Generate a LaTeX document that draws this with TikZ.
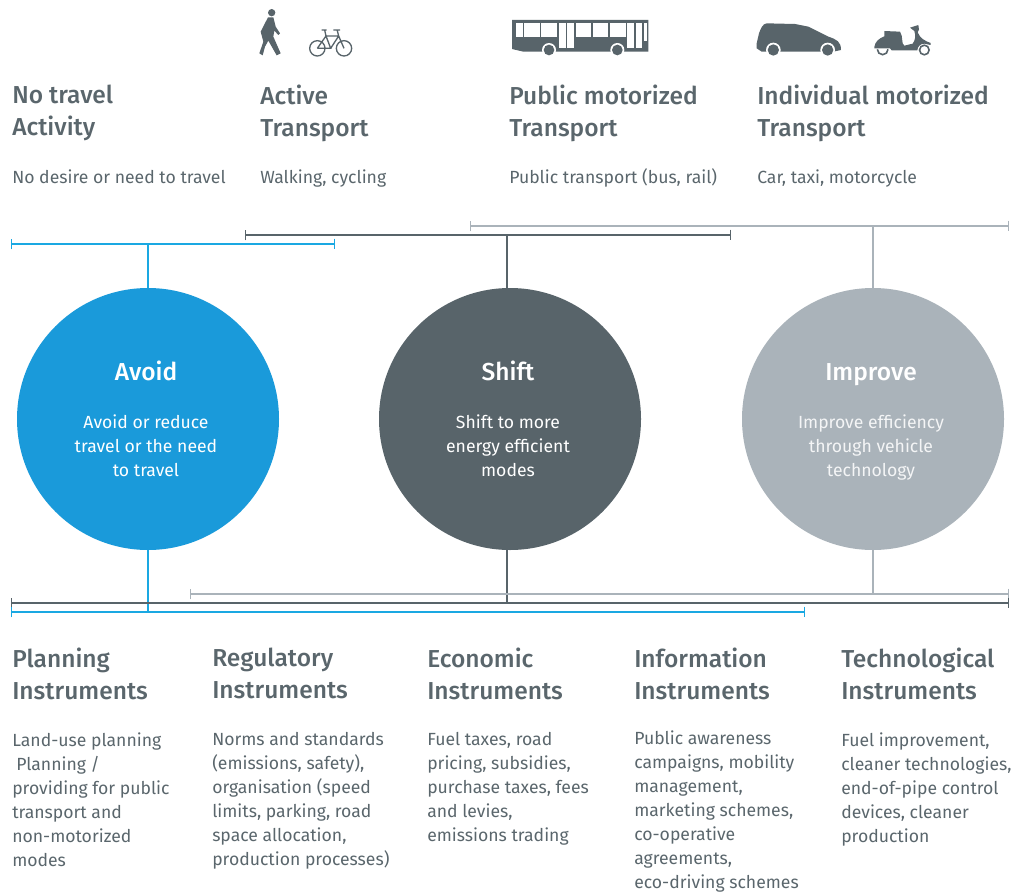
\documentclass[tikz,border=0pt]{standalone}
\usepackage{fontspec}
\setmainfont[BoldFont={Fira Sans Medium}]{Fira Sans}
\usetikzlibrary{arrows.meta}
\definecolor{avoidblue}{HTML}{1A9ADA}
\definecolor{lineblue}{HTML}{1AA8E2}
\definecolor{shiftgrey}{HTML}{58646A}
\definecolor{improvegrey}{HTML}{AAB3BA}
\definecolor{textgrey}{HTML}{5A666C}
\definecolor{improvetext}{HTML}{F4F5F6}
\tikzset{
  headtext/.style={anchor=north west, inner sep=0pt, align=left, text=textgrey,
    font=\fontsize{18.4}{24}\selectfont\bfseries, execute at begin node=\strut},
  bodytext/.style={anchor=north west, inner sep=0pt, align=left, text=textgrey,
    font=\fontsize{13.2}{18}\selectfont, execute at begin node=\strut},
  bigcircle/.style={circle, minimum size=196.5pt, inner sep=0pt},
  circlehead/.style={anchor=base, inner sep=0pt, text=white, font=\fontsize{18.4}{24}\selectfont\bfseries},
  circletext/.style={anchor=north, inner sep=0pt, align=center, font=\fontsize{13.2}{18}\selectfont},
  bracket/.style={line width=1.1pt, {Bar[width=8pt,line width=1pt]}-{Bar[width=8pt,line width=1pt]}},
  stem/.style={line width=1.1pt},
  icon/.style={fill=shiftgrey, draw=none}
}
\begin{document}
\begin{tikzpicture}[x=0.75pt, y=-0.75pt]
\useasboundingbox (0,0) rectangle (1013,892);

% top columns
\foreach \idx/\px/\head/\lab in {
  1/12/{No travel\\Activity}/{No desire or need to travel},
  2/260/{Active\\Transport}/{Walking, cycling},
  3/509/{Public motorized\\Transport}/{Public transport (bus, rail)},
  4/757/{Individual motorized\\Transport}/{Car, taxi, motorcycle}
}{
  \node[headtext] (H\idx) at (\px,85) {\head};
  \node[bodytext] (D\idx) at (\px,166) {\lab};
}

% circles
\foreach \name/\px/\col/\head/\lab/\txt in {
  avoid/148/avoidblue/Avoid/{Avoid or reduce\\travel or the need\\to travel}/white,
  shift/510/shiftgrey/Shift/{Shift to more\\energy efficient\\modes}/white,
  improve/873/improvegrey/Improve/{Improve efficiency\\through vehicle\\technology}/improvetext}{
  \node[bigcircle, fill=\col] (\name) at (\px,419) {};
  \node[circlehead] (\name head) at (\px-2,380) {\head};
  \node[circletext, text=\txt] (\name text) at (\px-2,414.5) {\lab};
}

% brackets above and below the circles
\foreach \name/\col/\ytop/\xa/\xb/\ybot/\xc/\xd/\sx in {
  avoid/lineblue/244/11/335/612/11/805/148,
  shift/shiftgrey/235/245/731/603/11/1009/507,
  improve/improvegrey/226/470/1009/594/190/1009/873}{
  \coordinate (\name TL) at (\xa,\ytop);
  \coordinate (\name TR) at (\xb,\ytop);
  \coordinate (\name TS) at (\sx,\ytop);
  \coordinate (\name BL) at (\xc,\ybot);
  \coordinate (\name BR) at (\xd,\ybot);
  \coordinate (\name BS) at (\sx,\ybot);
  \draw[bracket, draw=\col] (\name TL) -- (\name TR);
  \draw[stem, draw=\col] (\name TS) -- (\name TS |- \name.north);
  \draw[stem, draw=\col] (\name BS |- \name.south) -- (\name BS);
}
\draw[bracket, draw=improvegrey] (improveBL) -- (improveBR);
\draw[bracket, draw=shiftgrey] (shiftBL) -- (shiftBR);
\draw[bracket, draw=lineblue] (avoidBL) -- (avoidBR);

% bottom columns
\node[headtext] (P1) at (12,648) {Planning\\Instruments};
\node[headtext] (P2) at (212,648) {Regulatory\\Instruments};
\node[headtext] (P3) at (427,648) {Economic\\Instruments};
\node[headtext] (P4) at (634,648) {Information\\Instruments};
\node[headtext] (P5) at (841,648) {Technological\\Instruments};
\node[bodytext] (Q1) at (12,732) {Land-use planning\\\hspace*{3pt}Planning /\\providing for public\\transport and\\non-motorized\\modes};
\node[bodytext] (Q2) at (212,732) {Norms and standards\\(emissions, safety),\\organisation (speed\\limits, parking, road\\space allocation,\\production processes)};
\node[bodytext] (Q3) at (427,732) {Fuel taxes, road\\pricing, subsidies,\\purchase taxes, fees\\and levies,\\emissions trading};
\node[bodytext] (Q4) at (634,730) {Public awareness\\campaigns, mobility\\management,\\marketing schemes,\\co-operative\\agreements,\\eco-driving schemes};
\node[bodytext] (Q5) at (841,732) {Fuel improvement,\\cleaner technologies,\\end-of-pipe control\\devices, cleaner\\production};

% walker and bike
\begin{scope}[shift={(240,0)}, x=0.25pt, y=-0.25pt]
  \fill[icon] (95,38) circle (2.75pt);
  \fill[icon] (84,52) -- (100,52) -- (107,80) -- (120,100) -- (115,105) -- (103,92) -- (100,110)
    -- (122,160) -- (110,166) -- (85,122) -- (75,140) -- (68,166) -- (58,160) -- (70,125) -- (62,95) -- cycle;
  \draw[shiftgrey, line width=1pt] (232,145) circle (5.75pt) (312,145) circle (5.75pt)
    (232,145) -- (258,108) -- (296,108) -- (312,145) (258,108) -- (272,145) -- (232,145)
    (272,145) -- (296,108) (296,108) -- (292,92) (280,90) -- (300,90) (245,90) -- (260,90) (258,108) -- (254,90);
\end{scope}

% bus
\begin{scope}[shift={(500,0)}, x=0.25pt, y=-0.25pt]
  \fill[icon] (36,60) -- (445,60) -- (445,155) -- (70,155) -- (36,147) -- cycle;
  \foreach \xa/\xb/\yb in {47/68/112, 73/119/112, 124/170/112, 176/197/145, 202/222/145, 228/274/112,
    279/325/112, 331/377/112, 382/402/145, 407/427/145, 432/441/122}{
    \fill[white] (\xa,70) rectangle (\xb,\yb);
  }
  \foreach \xa in {147,352}{
    \fill[white] (\xa,150) circle (5.25pt);
    \fill[icon] (\xa,150) circle (4pt);
  }
\end{scope}

% car
\begin{scope}[shift={(745,0)}, x=0.25pt, y=-0.25pt]
  \fill[icon] (35,130) -- (42,100) .. controls (48,85) and (52,72) .. (65,70) -- (150,72) -- (190,80)
    -- (250,110) .. controls (275,118) and (288,125) .. (288,150) -- (265,155) -- (50,155) -- (35,145) -- cycle;
  \foreach \xa in {85,248}{
    \fill[white] (\xa,150) circle (5.5pt);
    \fill[icon] (\xa,150) circle (4.25pt);
  }
\end{scope}

% scooter
\begin{scope}[shift={(865,15)}, x=0.25pt, y=-0.25pt]
  \fill[icon] (28,96) .. controls (30,80) and (42,70) .. (58,64) -- (58,48) -- (105,50) -- (110,62)
    -- (113,85) -- (118,92) -- (143,86) .. controls (152,75) and (152,60) .. (148,48) -- (135,38) -- (160,30)
    -- (162,44) -- (158,52) .. controls (165,70) and (180,78) .. (197,84) -- (197,90) -- (178,86)
    .. controls (165,86) and (158,95) .. (157,106) -- (80,106) -- (75,100) -- (28,100) -- cycle;
  \draw[shiftgrey, line width=1.2pt] (37,103) arc[start angle=180, end angle=360, radius=4pt];
  \draw[shiftgrey, line width=1.2pt] (178,105) circle (3.6pt);
\end{scope}
\end{tikzpicture}
\end{document}
